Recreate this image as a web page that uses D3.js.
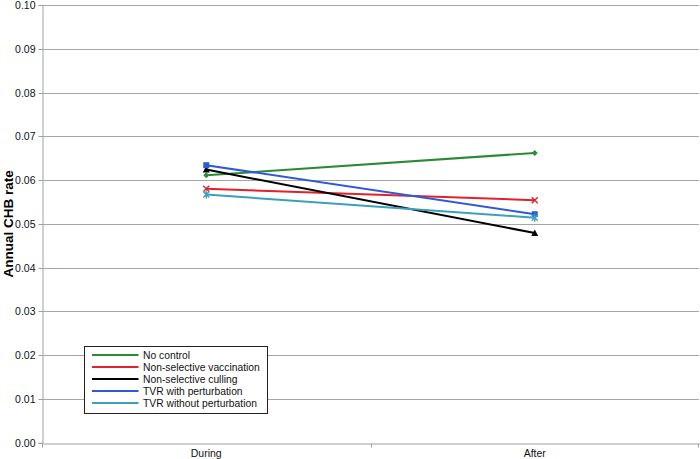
<!DOCTYPE html>
<html><head><meta charset="utf-8">
<script src="https://cdn.jsdelivr.net/npm/d3@7"></script>
<style>html,body{margin:0;padding:0;background:#fff;}svg{display:block;font-family:"Liberation Sans",Arial,sans-serif;}</style>
</head><body>
<script>
const categories = ["During", "After"];
const seriesNames = ["No control", "Non-selective vaccination", "Non-selective culling", "TVR with perturbation", "TVR without perturbation"];
const noControl = [0.0611, 0.0662];
const nonSelVacc = [0.0580, 0.0554];
const nonSelCull = [0.0624, 0.0479];
const tvrWith = [0.0634, 0.0522];
const tvrWithout = [0.0567, 0.0514];
const yTicks = [0, 0.01, 0.02, 0.03, 0.04, 0.05, 0.06, 0.07, 0.08, 0.09, 0.10];
const colors = ["#2a8a36", "#e3202c", "#000000", "#2f5ad6", "#3c9fbb"];
const markers = ["diamond", "x", "triangle", "square", "asterisk"];
const seriesValues = [noControl, nonSelVacc, nonSelCull, tvrWith, tvrWithout];

const W = 700, H = 459;
const m = {left: 42, right: 1, top: 5, bottom: 16};
const svg = d3.select("body").append("svg").attr("width", W).attr("height", H);
const x = d3.scaleBand().domain(categories).range([m.left, W - m.right]);
const y = d3.scaleLinear().domain([0, 0.10]).range([H - m.bottom - 0.3, m.top]);

// gridlines
svg.append("g").selectAll("line").data(yTicks.filter(d => d > 0)).join("line")
  .attr("x1", m.left).attr("x2", W - m.right)
  .attr("y1", d => Math.round(y(d)) + 0.5).attr("y2", d => Math.round(y(d)) + 0.5)
  .attr("stroke", "#a6a6a6").attr("stroke-width", 1);

// y axis
const yAxis = d3.axisLeft(y).tickValues(yTicks).tickFormat(d3.format(".2f")).tickSize(4).tickPadding(3);
const gy = svg.append("g").attr("transform", `translate(${m.left + 0.5},0)`).call(yAxis);
gy.select(".domain").attr("stroke", "#a0a0a0");
gy.selectAll(".tick line").attr("stroke", "#a0a0a0");
gy.selectAll(".tick text").attr("font-size", 10.5).attr("fill", "#111")
  .attr("font-family", '"Liberation Sans",Arial,sans-serif');
gy.selectAll(".tick").attr("transform", d => `translate(0,${Math.round(y(d)) + 0.5})`);

// x axis
const xAxis = d3.axisBottom(x).tickSize(0).tickPadding(6);
const gx = svg.append("g").attr("transform", `translate(0,${Math.round(y(0)) + 0.5})`).call(xAxis);
gx.select(".domain").attr("stroke", "#a0a0a0");
gx.selectAll(".tick text").attr("font-size", 10.5).attr("fill", "#111")
  .attr("font-family", '"Liberation Sans",Arial,sans-serif');
// category boundary tick marks
const bounds = [x.range()[0], x(categories[1]), x.range()[1] - 1];
gx.append("g").selectAll("line").data(bounds).join("line")
  .attr("x1", d => Math.round(d) + 0.5).attr("x2", d => Math.round(d) + 0.5)
  .attr("y1", 0).attr("y2", 4).attr("stroke", "#a0a0a0");

// y label
svg.append("text").attr("transform", `translate(12.5,${(y(0) + y(0.1)) / 2}) rotate(-90)`)
  .attr("text-anchor", "middle").attr("font-size", 13.5).attr("font-weight", "bold")
  .text("Annual CHB rate");

// series
const line = d3.line().x((d, i) => x(categories[i]) + x.bandwidth() / 2).y(d => y(d));
function marker(g, type, color) {
  const s = 3;
  if (type === "diamond") g.append("path").attr("d", `M0,${-s}L${s},0L0,${s}L${-s},0Z`).attr("fill", color);
  else if (type === "square") g.append("rect").attr("x", -3).attr("y", -3).attr("width", 6).attr("height", 6).attr("fill", color);
  else if (type === "triangle") g.append("path").attr("d", `M0,${-s - 0.5}L${s + 0.5},${s}L${-s - 0.5},${s}Z`).attr("fill", color);
  else if (type === "x") g.append("path").attr("d", `M${-s},${-s}L${s},${s}M${-s},${s}L${s},${-s}`).attr("stroke", color).attr("stroke-width", 1.4);
  else if (type === "asterisk") g.append("path").attr("d", `M${-s},${-s}L${s},${s}M${-s},${s}L${s},${-s}M0,${-s - 1}L0,${s + 1}`).attr("stroke", color).attr("stroke-width", 1.4);
}
seriesValues.forEach((vals, k) => {
  const g = svg.append("g");
  g.append("path").datum(vals).attr("d", line).attr("fill", "none")
    .attr("stroke", colors[k]).attr("stroke-width", 2);
  vals.forEach((v, i) => {
    const mg = g.append("g").attr("transform", `translate(${x(categories[i]) + x.bandwidth() / 2},${y(v)})`);
    marker(mg, markers[k], colors[k]);
  });
});

// legend
const lg = svg.append("g").attr("transform", "translate(84.5,346.5)");
lg.append("rect").attr("width", 183).attr("height", 67).attr("fill", "#fff").attr("stroke", "#222").attr("stroke-width", 1);
seriesNames.forEach((name, k) => {
  const yy = 8.5 + k * 12;
  lg.append("line").attr("x1", 7.5).attr("x2", 54).attr("y1", yy).attr("y2", yy)
    .attr("stroke", colors[k]).attr("stroke-width", 2);
  lg.append("text").attr("x", 58.5).attr("y", yy + 4).attr("font-size", 10.3).attr("fill", "#111").text(name);
});
</script>
</body></html>
